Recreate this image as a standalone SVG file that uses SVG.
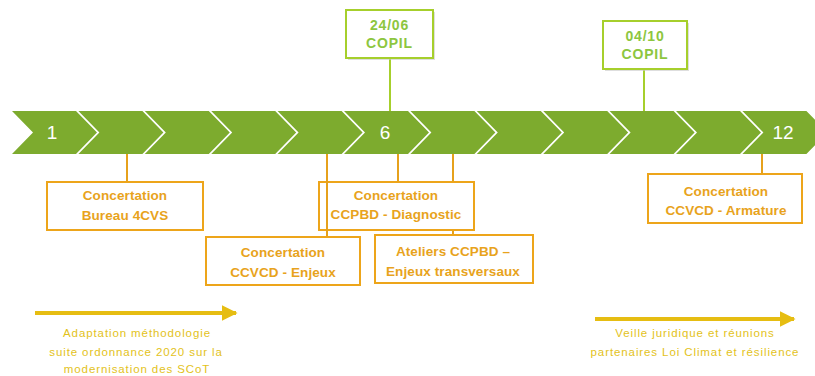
<svg xmlns="http://www.w3.org/2000/svg" width="815" height="376" viewBox="0 0 815 376">
<style>
.num{font-family:"Liberation Sans",Arial,sans-serif;font-size:19px;fill:#ffffff;text-anchor:middle}
.gbox{fill:#ffffff;stroke:#a6cf2c;stroke-width:2}
.gtxt{font-family:"Liberation Sans",Arial,sans-serif;font-size:14px;font-weight:bold;fill:#8dc63f;text-anchor:middle;letter-spacing:0.8px}
.gline{stroke:#a6cf2c;stroke-width:2;fill:none}
.obox{fill:#ffffff;stroke:#eda51a;stroke-width:2}
.otxt{font-family:"Liberation Sans",Arial,sans-serif;font-size:13.5px;font-weight:bold;fill:#e8a31c;text-anchor:middle;letter-spacing:0.1px}
.oline{stroke:#e6a11c;stroke-width:2;fill:none}
.ytxt{font-family:"Liberation Sans",Arial,sans-serif;font-size:11.5px;fill:#e3c21a;text-anchor:middle;letter-spacing:0.9px}
.yline{stroke:#e6bd12;stroke-width:4;fill:none}
.shadow{fill:#c8c8c8;opacity:0.6}
</style>
<defs>
<path id="chev" d="M0,0 H64 L85,21.5 L64,43 H0 L21,21.5 Z" fill="#7dab2e"/>
<marker id="ah" viewBox="0 0 10 10" refX="9" refY="5" markerWidth="4" markerHeight="4" orient="auto" markerUnits="strokeWidth">
<path d="M0,0 L10,5 L0,10 Z" fill="#e6bd12"/>
</marker>
</defs>

<g id="connectors">
<line class="gline" x1="390" y1="59" x2="390" y2="111"/>
<line class="gline" x1="644" y1="69" x2="644" y2="111"/>
<line class="oline" x1="127" y1="154" x2="127" y2="182"/>
<line class="oline" x1="398" y1="154" x2="398" y2="182"/>
<line class="oline" x1="453" y1="154" x2="453" y2="235"/>
<line class="oline" x1="762" y1="154" x2="762" y2="174"/>
</g>

<g id="timeline">
<use href="#chev" transform="translate(12,111)"/>
<use href="#chev" transform="translate(78.4,111)"/>
<use href="#chev" transform="translate(144.8,111)"/>
<use href="#chev" transform="translate(211.2,111)"/>
<use href="#chev" transform="translate(277.6,111)"/>
<use href="#chev" transform="translate(344,111)"/>
<use href="#chev" transform="translate(410.4,111)"/>
<use href="#chev" transform="translate(476.8,111)"/>
<use href="#chev" transform="translate(543.2,111)"/>
<use href="#chev" transform="translate(609.6,111)"/>
<use href="#chev" transform="translate(676,111)"/>
<use href="#chev" transform="translate(742.4,111)"/>
<text class="num" x="52" y="139">1</text>
<text class="num" x="385" y="139">6</text>
<text class="num" x="783" y="139">12</text>
</g>

<g id="copil1">
<rect class="shadow" x="348" y="12" width="87" height="48"/>
<rect class="gbox" x="346" y="10" width="87" height="48"/>
<text class="gtxt" x="389.5" y="30">24/06</text>
<text class="gtxt" x="389.5" y="48">COPIL</text>
</g>

<g id="copil2">
<rect class="shadow" x="605" y="23" width="84" height="48"/>
<rect class="gbox" x="603" y="21" width="84" height="48"/>
<text class="gtxt" x="645" y="41">04/10</text>
<text class="gtxt" x="645" y="59">COPIL</text>
</g>

<g id="bureau">
<rect class="obox" x="47" y="182" width="156" height="48"/>
<text class="otxt" x="125" y="200">Concertation</text>
<text class="otxt" x="125" y="220">Bureau 4CVS</text>
</g>

<g id="diagnostic">
<rect class="obox" x="319" y="182" width="155" height="48"/>
<text class="otxt" x="396" y="200">Concertation</text>
<text class="otxt" x="396" y="219">CCPBD - Diagnostic</text>
</g>

<g id="connector-enjeux">
<line class="oline" x1="327" y1="154" x2="327" y2="237"/>
</g>

<g id="enjeux">
<rect class="obox" x="206" y="237" width="154" height="48"/>
<text class="otxt" x="283" y="257">Concertation</text>
<text class="otxt" x="283" y="277">CCVCD - Enjeux</text>
</g>

<g id="ateliers">
<rect class="obox" x="375" y="235" width="158" height="48"/>
<text class="otxt" x="453" y="256">Ateliers CCPBD –</text>
<text class="otxt" x="453" y="276">Enjeux transversaux</text>
</g>

<g id="armature">
<rect class="obox" x="648" y="174" width="154" height="49"/>
<text class="otxt" x="726" y="196">Concertation</text>
<text class="otxt" x="726" y="215">CCVCD - Armature</text>
</g>

<g id="adaptation">
<line class="yline" x1="35" y1="313" x2="236" y2="313" marker-end="url(#ah)"/>
<text class="ytxt" x="137" y="337">Adaptation méthodologie</text>
<text class="ytxt" x="136" y="356">suite ordonnance 2020 sur la</text>
<text class="ytxt" x="137" y="373">modernisation des SCoT</text>
</g>

<g id="veille">
<line class="yline" x1="595" y1="319" x2="794" y2="319" marker-end="url(#ah)"/>
<text class="ytxt" x="695" y="337">Veille juridique et réunions</text>
<text class="ytxt" x="695" y="356">partenaires  Loi Climat et résilience</text>
</g>
</svg>
